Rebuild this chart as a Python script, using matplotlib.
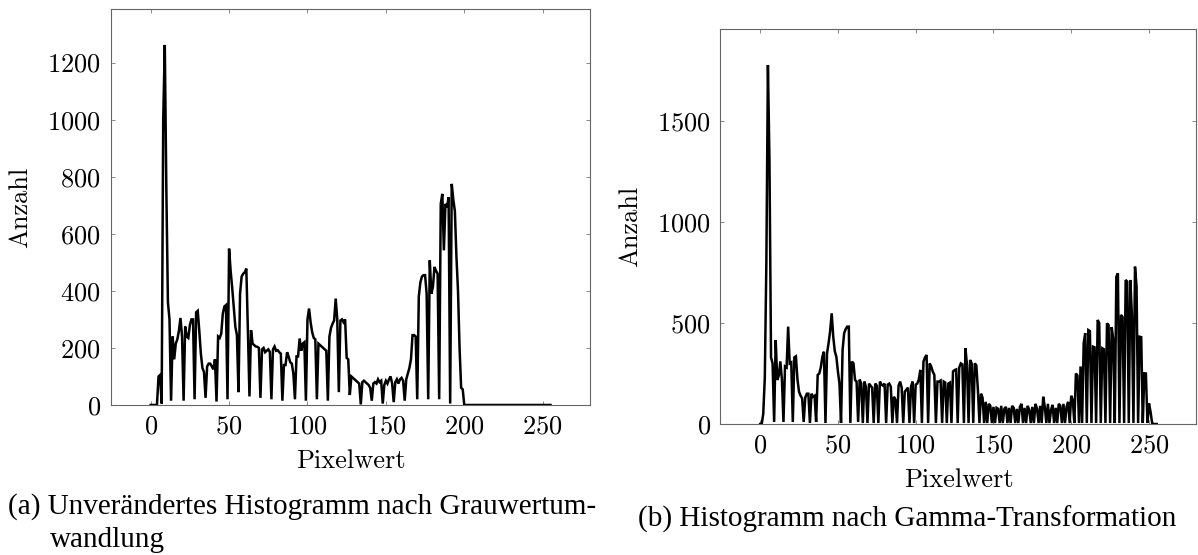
import numpy as np
import matplotlib
matplotlib.use("Agg")
import matplotlib.pyplot as plt

# Pixelwerte 0..255
pixel = np.arange(256)

# (a) Unverändertes Histogramm
hist_orig = [
    0, 0, 0, 0, 0, 100, 105, 5, 1000, 1262, 750, 360, 300, 15,
    240, 160, 215, 230, 260, 305, 240, 15,
    275, 240, 235, 280, 300, 300, 20,
    325, 330, 260, 180, 130, 115, 25,
    135, 145, 145, 135, 125, 160, 12,
    240, 235, 250, 320, 345, 350, 20,
    548, 470, 410, 340, 274, 245, 45,
    390, 450, 460, 465, 478, 262, 30,
    262, 215, 210, 205, 204, 200, 25,
    195, 200, 185, 190, 195, 186, 20,
    195, 205, 190, 192, 185, 180, 15,
    140, 140, 185, 169, 150, 145, 110, 20,
    170, 170, 233, 190, 215, 220, 15,
    300, 338, 290, 255, 235, 230, 20,
    215, 210, 205, 200, 195, 190, 15,
    240, 270, 285, 296, 373, 300, 45,
    296, 300, 290, 300, 165, 160, 35,
    100, 95, 90, 85, 80, 75, 2,
    80, 85, 80, 75, 70, 60, 15,
    75, 80, 75, 90, 80, 85, 5,
    70, 85, 75, 90, 100, 75, 10,
    80, 90, 75, 90, 95, 85, 15,
    90, 110, 130, 160, 245, 245, 240, 20,
    380, 430, 450, 455, 455, 390, 20,
    507, 390, 414, 484, 470, 460, 20,
    705, 740, 542, 705, 693, 728, 5,
    775, 720, 680, 520, 400, 200, 60, 55,
] + [0] * 56

# (b) Histogramm nach Gamma-Transformation, 10 Werte je Zeile
hist_gamma = [
    0, 0, 50, 230, 800, 1777, 1300, 330, 300, 10,
    416, 218, 240, 310, 220, 10, 285, 280, 482, 300,
    305, 10, 330, 335, 220, 160, 140, 127, 10, 130,
    150, 150, 5, 150, 135, 140, 10, 243, 250, 280,
    333, 358, 5, 350, 400, 460, 548, 432, 360, 333,
    260, 200, 5, 366, 449, 470, 482, 482, 5, 309,
    300, 218, 210, 10, 220, 200, 5, 210, 185, 5,
    200, 190, 180, 5, 200, 190, 5, 210, 195, 190,
    200, 5, 195, 200, 185, 5, 135, 120, 5, 190,
    210, 180, 5, 160, 170, 180, 5, 185, 210, 5,
    195, 200, 220, 268, 5, 309, 330, 342, 5, 300,
    284, 259, 243, 5, 210, 210, 215, 5, 210, 205,
    5, 200, 205, 5, 260, 267, 270, 5, 280, 300,
    295, 5, 375, 290, 5, 317, 300, 5, 300, 290,
    168, 5, 150, 130, 5, 110, 5, 100, 90, 5,
    85, 5, 80, 75, 5, 90, 5, 75, 85, 5,
    80, 5, 90, 80, 5, 75, 5, 85, 100, 5,
    80, 5, 90, 70, 5, 85, 5, 100, 75, 5,
    90, 5, 135, 85, 5, 100, 5, 70, 95, 5,
    80, 5, 100, 90, 5, 100, 5, 85, 110, 5,
    140, 120, 5, 250, 240, 5, 285, 5, 400, 450,
    5, 465, 460, 5, 383, 380, 5, 515, 500, 5,
    375, 370, 5, 498, 490, 5, 480, 420, 5, 729,
    746, 5, 540, 530, 5, 713, 705, 5, 713, 540,
    5, 779, 680, 5, 432, 430, 5, 251, 250, 5,
    102, 60, 5, 0, 0, 0,
]

yticks_a = [0, 200, 400, 600, 800, 1000, 1200]
yticks_b = [0, 500, 1000, 1500]
xticks = [0, 50, 100, 150, 200, 250]

plt.rcParams["font.family"] = "cmr10"
plt.rcParams["axes.formatter.use_mathtext"] = True

fig = plt.figure(figsize=(11.98, 5.55), dpi=100)
ax1 = fig.add_axes([0.0924, 0.2703, 0.4005, 0.7135])
ax2 = fig.add_axes([0.6014, 0.2360, 0.3973, 0.7117])

panels = [
    (ax1, hist_orig, yticks_a, 1388),
    (ax2, hist_gamma, yticks_b, 1955),
]
for ax, hist, yt, ytop in panels:
    ax.plot(pixel, hist, color="black", lw=1.8, solid_joinstyle="miter")
    ax.set_xlim(-25.5, 280.5)
    ax.set_ylim(0, ytop)
    ax.set_xticks(xticks)
    ax.set_yticks(yt)
    ax.tick_params(direction="in", length=3, width=0.6, color="#777777",
                   top=True, right=True, labelsize=19, pad=7)
    for s in ax.spines.values():
        s.set_color("#666666")
        s.set_linewidth(0.8)
    ax.set_xlabel("Pixelwert", fontsize=19, labelpad=8)
    ax.set_ylabel("Anzahl", fontsize=19, labelpad=11)

cap = dict(family="Liberation Serif", fontsize=21, va="center", ha="left")
fig.text(8 / 1198, 1 - 507 / 555, "(a) Unverändertes Histogramm nach Grauwertum-", **cap)
fig.text(50 / 1198, 1 - 540 / 555, "wandlung", **cap)
fig.text(638 / 1198, 1 - 519 / 555, "(b) Histogramm nach Gamma-Transformation", **cap)

fig.savefig("out.png", dpi=100)
